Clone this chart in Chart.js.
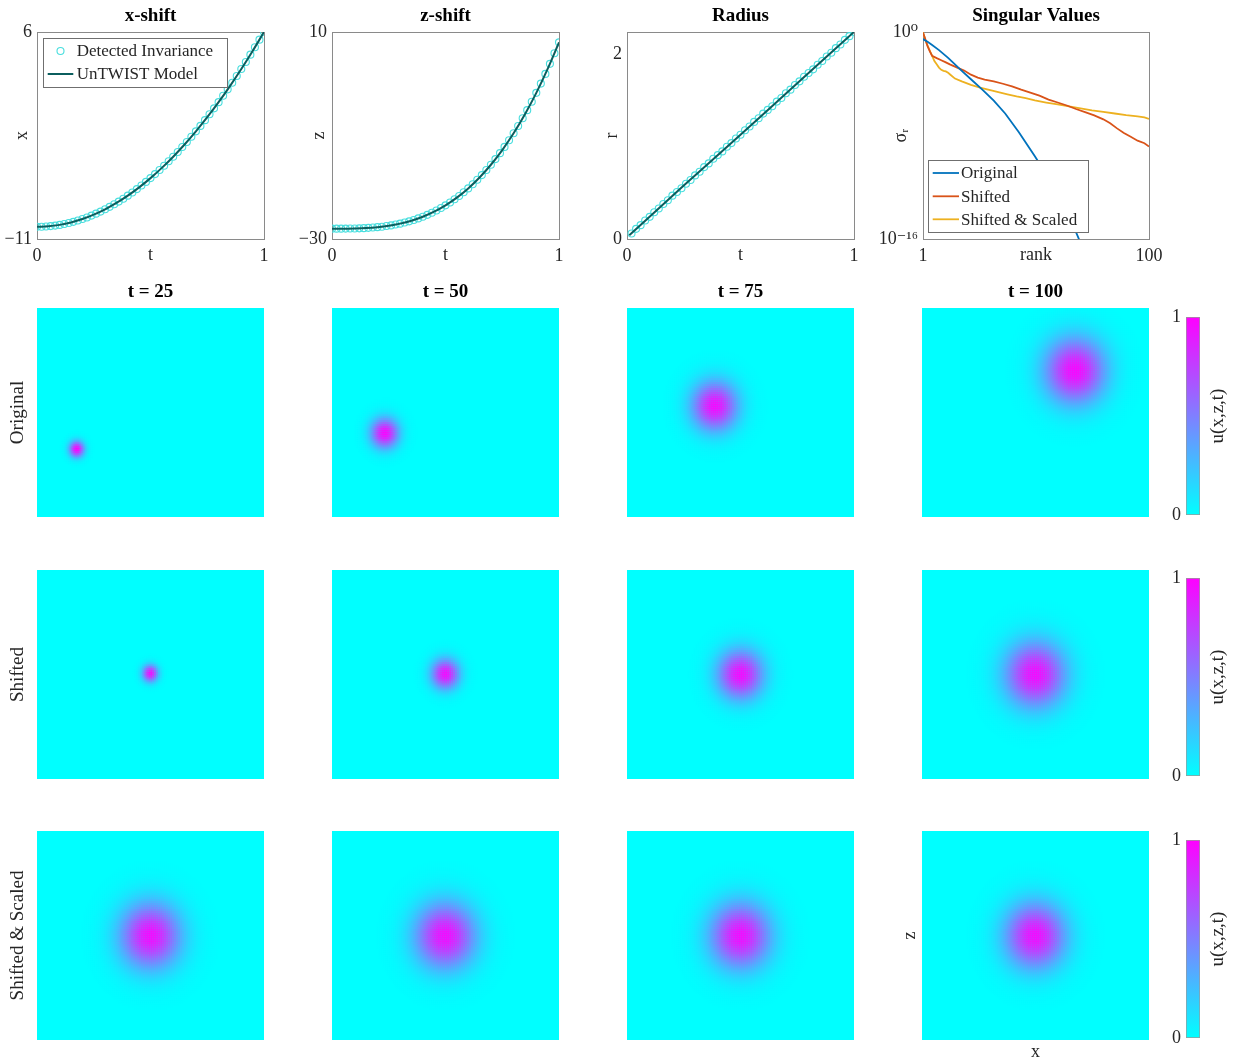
<!DOCTYPE html>
<html>
<head>
<meta charset="utf-8">
<script src="https://cdn.jsdelivr.net/npm/chart.js@4.4.0/dist/chart.umd.min.js"></script>
<style>
  html, body { margin: 0; padding: 0; background: #fff; width: 1233px; height: 1061px; overflow: hidden; }
  canvas { position: absolute; }
  .cblabel { position: absolute; font: 19px 'Liberation Serif', serif; color: #262626; white-space: nowrap;
             transform: translate(-50%, -50%) rotate(-90deg); }
</style>
</head>
<body>
<script>
// ---------- top row: detected invariances ----------
const tDet = [0,0.02,0.04,0.06,0.08,0.1,0.12,0.14,0.16,0.18,0.2,0.22,0.24,0.26,0.28,0.3,0.32,0.34,0.36,0.38,0.4,0.42,0.44,0.46,0.48,0.5,0.52,0.54,0.56,0.58,0.6,0.62,0.64,0.66,0.68,0.7,0.72,0.74,0.76,0.78,0.8,0.82,0.84,0.86,0.88,0.9,0.92,0.94,0.96,0.98,1];
const tModel = [0,0.05,0.1,0.15,0.2,0.25,0.3,0.35,0.4,0.45,0.5,0.55,0.6,0.65,0.7,0.75,0.8,0.85,0.9,0.95,1];

const xShiftDet = [-10.00,-9.99,-9.97,-9.94,-9.90,-9.84,-9.77,-9.69,-9.59,-9.48,-9.36,-9.23,-9.08,-8.92,-8.75,-8.56,-8.36,-8.15,-7.93,-7.69,-7.44,-7.18,-6.90,-6.61,-6.31,-6.00,-5.67,-5.33,-4.98,-4.62,-4.24,-3.85,-3.45,-3.03,-2.60,-2.16,-1.71,-1.24,-0.76,-0.27,0.24,0.76,1.29,1.83,2.39,2.96,3.54,4.14,4.75,5.37,6.00];
const xShiftModel = [-10.00,-9.96,-9.84,-9.64,-9.36,-9.00,-8.56,-8.04,-7.44,-6.76,-6.00,-5.16,-4.24,-3.24,-2.16,-1.00,0.24,1.56,2.96,4.44,6.00];

const zShiftDet = [-28.00,-28.00,-28.00,-27.99,-27.98,-27.96,-27.94,-27.90,-27.85,-27.79,-27.71,-27.62,-27.50,-27.37,-27.21,-27.03,-26.82,-26.59,-26.32,-26.02,-25.70,-25.33,-24.93,-24.50,-24.02,-23.50,-22.94,-22.33,-21.68,-20.98,-20.22,-19.42,-18.56,-17.65,-16.68,-15.65,-14.56,-13.41,-12.20,-10.92,-9.57,-8.15,-6.66,-5.10,-3.47,-1.76,0.03,1.90,3.85,5.88,8.00];
const zShiftModel = [-28.00,-28.00,-27.96,-27.88,-27.71,-27.44,-27.03,-26.46,-25.70,-24.72,-23.50,-22.01,-20.22,-18.11,-15.65,-12.81,-9.57,-5.89,-1.76,2.87,8.00];

const tRadDet = tDet.slice(1);
const radiusDet = [0.06,0.11,0.15,0.20,0.24,0.29,0.33,0.38,0.42,0.47,0.51,0.55,0.60,0.64,0.69,0.73,0.78,0.82,0.87,0.91,0.95,1.00,1.04,1.09,1.13,1.18,1.22,1.27,1.31,1.36,1.40,1.44,1.49,1.53,1.58,1.62,1.67,1.71,1.76,1.80,1.84,1.89,1.93,1.98,2.02,2.07,2.11,2.16,2.20,2.245];
const tRadModel = [0.01,0.25,0.5,0.75,1];
const radiusModel = [0.04,0.58,1.13,1.69,2.245];

// singular values, stored as log10(sigma_r)
const rankOrig = [1,3,5,8,12,15,18,22,27,32,37,43,50,55,60,65,70,75];
const origExp = [-0.55,-0.75,-1.0,-1.4,-2.0,-2.5,-3.0,-3.65,-4.45,-5.3,-6.3,-7.75,-9.6,-11.0,-12.4,-14.2,-16.3,-18.5];
const rankShift = [1,2,3,4,5,7,9,11,13,16,19,22,25,28,32,36,40,44,48,52,56,60,64,68,72,76,80,83,86,89,92,95,98,100];
const shiftExp = [-0.05,-0.55,-1.1,-1.5,-1.85,-2.02,-2.18,-2.35,-2.52,-2.75,-2.98,-3.3,-3.52,-3.68,-3.82,-4.0,-4.2,-4.45,-4.68,-4.92,-5.22,-5.45,-5.68,-5.95,-6.2,-6.45,-6.75,-7.05,-7.45,-7.8,-8.1,-8.4,-8.6,-8.85];
const rankScaled = [1,2,3,4,5,6,7,8,9,10,11,12,13,15,18,22,26,30,34,38,42,46,50,55,60,65,70,75,80,85,90,95,98,100];
const scaledExp = [-0.02,-0.6,-1.05,-1.45,-1.85,-2.25,-2.5,-2.75,-2.92,-3.0,-3.05,-3.15,-3.3,-3.6,-3.82,-4.08,-4.3,-4.48,-4.65,-4.82,-4.98,-5.12,-5.28,-5.45,-5.6,-5.75,-5.9,-6.05,-6.18,-6.3,-6.42,-6.52,-6.6,-6.72];

// tick labels
const tTicks = [0, 1];
const xShiftTicks = [-11, 6];
const zShiftTicks = [-30, 10];
const radiusTicks = [0, 2];
const rankTicks = [1, 100];
const sigmaTicks = [1e-16, 1];
const cbarTicks = [0, 1];

// ---------- snapshots u(x,z,t) ----------
const frameTitles = ['t = 25', 't = 50', 't = 75', 't = 100'];
const rowNames = ['Original', 'Shifted', 'Shifted & Scaled'];
const blobX = [[-6.48, -5.33, -2.25, 3.48], [0, 0, 0, 0], [0, 0, 0, 0]];
const blobZ = [[-2.97, -1.67, 0.52, 3.37], [0.1, 0.05, 0, 0], [0, 0, 0, 0]];
const blobWidth = [[0.46, 0.85, 1.4, 1.85], [0.48, 0.85, 1.4, 1.85], [1.85, 1.85, 1.85, 1.85]];

// ---------- styling ----------
const SERIF = "'Liberation Serif', 'DejaVu Serif', serif";
const GRAY = '#8a8a8a';
const CYAN = 'rgb(72,222,222)';
const TEAL = '#0b5e5e';
Chart.defaults.font.family = SERIF;
Chart.defaults.font.size = 18;
Chart.defaults.color = '#262626';

const fmt = v => String(v).replace('-', '\u2212');
const SUP = {'-': '\u207B', '0': '\u2070', '1': '\u00B9', '2': '\u00B2', '3': '\u00B3', '4': '\u2074', '5': '\u2075', '6': '\u2076', '7': '\u2077', '8': '\u2078', '9': '\u2079'};
const fmtPow = v => '10' + String(Math.round(Math.log10(v))).split('').map(ch => SUP[ch]).join('');
const cool = u => `rgb(${Math.round(255 * u)},${Math.round(255 * (1 - u))},255)`;

function canvasAt(plot, pad) {
  const cv = document.createElement('canvas');
  cv.width = plot[2] + pad[0] + pad[2];
  cv.height = plot[3] + pad[1] + pad[3];
  cv.style.left = (plot[0] - pad[0]) + 'px';
  cv.style.top = (plot[1] - pad[1]) + 'px';
  document.body.appendChild(cv);
  return cv;
}

// box lines on top and right
function frame(color) {
  const base = {display: true, grid: {display: false, drawTicks: false}, ticks: {display: false}, border: {color: color, width: 1}};
  return {
    xTop: Object.assign({position: 'top', afterFit: s => { s.height = 0; }}, base),
    yRight: Object.assign({position: 'right', afterFit: s => { s.width = 0; }}, base)
  };
}

// legend drawn inside the axes, with a frame
const boxLegend = {
  id: 'boxLegend',
  afterDatasetsDraw(chart, args, o) {
    const a = chart.chartArea, ctx = chart.ctx;
    ctx.save();
    ctx.fillStyle = '#fff';
    ctx.strokeStyle = '#6f6f6f';
    ctx.lineWidth = 1;
    ctx.fillRect(a.left + o.box[0], a.top + o.box[1], o.box[2], o.box[3]);
    ctx.strokeRect(Math.round(a.left + o.box[0]) + 0.5, Math.round(a.top + o.box[1]) + 0.5, o.box[2], o.box[3]);
    chart.data.datasets.forEach((ds, i) => {
      const y = a.top + o.rows[i];
      if (ds.showLine) {
        ctx.strokeStyle = ds.borderColor;
        ctx.lineWidth = ds.borderWidth;
        ctx.beginPath();
        ctx.moveTo(a.left + o.sample[0], y);
        ctx.lineTo(a.left + o.sample[1], y);
        ctx.stroke();
      } else {
        ctx.strokeStyle = ds.pointBorderColor;
        ctx.lineWidth = ds.pointBorderWidth;
        ctx.beginPath();
        ctx.arc(a.left + (o.sample[0] + o.sample[1]) / 2, y, ds.pointRadius, 0, Math.PI * 2);
        ctx.stroke();
      }
      ctx.fillStyle = '#262626';
      ctx.font = '17px ' + SERIF;
      ctx.textBaseline = 'middle';
      ctx.fillText(ds.label, a.left + o.textX, y + 1);
    });
    ctx.restore();
  }
};

const pts = (xs, ys) => xs.map((x, i) => ({x: x, y: ys[i]}));
const detected = (xs, ys) => ({label: 'Detected Invariance', data: pts(xs, ys), showLine: false, pointStyle: 'circle',
  pointRadius: 3.5, pointBorderWidth: 1.1, pointBorderColor: CYAN, pointBackgroundColor: 'rgba(0,0,0,0)', order: 1});
const model = (xs, ys) => ({label: 'UnTWIST Model', data: pts(xs, ys), showLine: true, borderColor: TEAL, borderWidth: 2,
  pointRadius: 0, cubicInterpolationMode: 'monotone', order: 0});

function topChart(plot, padL, spec) {
  const cv = canvasAt(plot, [padL, 32, 26, 36]);
  const ticksOf = arr => s => { s.ticks = arr.map(v => ({value: v})); };
  return new Chart(cv, {
    type: 'scatter',
    data: {datasets: spec.datasets},
    plugins: spec.legend ? [boxLegend] : [],
    options: {
      responsive: false, animation: false, events: [],
      layout: {padding: {left: 0, top: 0, right: 26, bottom: 0}},
      plugins: {
        legend: {display: false}, tooltip: {enabled: false},
        title: {display: true, text: spec.title, fullSize: false, color: '#000',
          font: {size: 19, weight: 'bold', lineHeight: 1}, padding: {top: 7, bottom: 6}},
        boxLegend: spec.legend || false
      },
      scales: Object.assign({
        x: {type: 'linear', min: spec.xRange[0], max: spec.xRange[1], afterBuildTicks: ticksOf(spec.xTicks),
          ticks: {callback: fmt, padding: 6, maxRotation: 0, autoSkip: false},
          grid: {display: false, drawTicks: false}, border: {color: GRAY},
          title: {display: true, text: spec.xTitle, font: {size: 18, lineHeight: 1}, padding: {top: 0, bottom: 10.5}},
          afterFit: s => { s.height = 36; }},
        y: {type: spec.yType || 'linear', min: spec.yRange[0], max: spec.yRange[1], afterBuildTicks: ticksOf(spec.yTicks),
          ticks: {callback: spec.yFmt || fmt, padding: 5, autoSkip: false},
          grid: {display: false, drawTicks: false}, border: {color: GRAY},
          title: {display: true, text: spec.yTitle, font: {size: 18, lineHeight: 1}, padding: {top: spec.yTitlePad, bottom: 0}},
          afterFit: s => { s.width = padL; }}
      }, frame(GRAY))
    }
  });
}

topChart([37, 32, 227, 207], 37, {
  title: 'x-shift', xTitle: 't', yTitle: 'x', yTitlePad: 13,
  xRange: [0, 1], yRange: [-11, 6], xTicks: tTicks, yTicks: xShiftTicks,
  datasets: [detected(tDet, xShiftDet), model(tModel, xShiftModel)],
  legend: {box: [6.3, 6.3, 184, 49], rows: [19, 42], sample: [10.7, 36.3], textX: 39.7}
});
topChart([332, 32, 227, 207], 37, {
  title: 'z-shift', xTitle: 't', yTitle: 'z', yTitlePad: 15,
  xRange: [0, 1], yRange: [-30, 10], xTicks: tTicks, yTicks: zShiftTicks,
  datasets: [detected(tDet, zShiftDet), model(tModel, zShiftModel)]
});
topChart([627, 32, 227, 207], 37, {
  title: 'Radius', xTitle: 't', yTitle: 'r', yTitlePad: 13.7,
  xRange: [0, 1], yRange: [0, 2.245], xTicks: tTicks, yTicks: radiusTicks,
  datasets: [detected(tRadDet, radiusDet), model(tRadModel, radiusModel)]
});
const svLine = (label, color, ranks, exps) => ({label: label, showLine: true, borderColor: color, borderWidth: 1.8,
  pointRadius: 0, tension: 0, data: ranks.map((r, i) => ({x: r, y: Math.pow(10, exps[i])}))});
topChart([923, 32, 226, 207], 50, {
  title: 'Singular Values', xTitle: 'rank', yTitle: '\u03C3\u1D63', yTitlePad: 19.7,
  xRange: [1, 100], yRange: [1e-16, 1], yType: 'logarithmic', xTicks: rankTicks, yTicks: sigmaTicks, yFmt: fmtPow,
  datasets: [
    svLine('Original', '#0072BD', rankOrig, origExp),
    svLine('Shifted', '#D95319', rankShift, shiftExp),
    svLine('Shifted & Scaled', '#EDB120', rankScaled, scaledExp)
  ],
  legend: {box: [5, 128.3, 160, 72], rows: [141, 164.3, 187.3], sample: [9.7, 36], textX: 38}
});

// ---------- heatmap grid ----------
const NX = 114, NZ = 105, X_MIN = -10, X_MAX = 10, Z_MIN = -8.5, Z_MAX = 8.5;
function blobCells(cx, cz, w) {
  const dx = (X_MAX - X_MIN) / NX, dz = (Z_MAX - Z_MIN) / NZ;
  const data = [], colors = [];
  for (let i = 0; i < NX; i++) {
    for (let j = 0; j < NZ; j++) {
      const x = X_MIN + (i + 0.5) * dx, z = Z_MIN + (j + 0.5) * dz;
      const u = Math.exp(-((x - cx) ** 2 + (z - cz) ** 2) / (2 * w * w));
      if (u > 0.004) { data.push({x: x, y: z}); colors.push(cool(u)); }
    }
  }
  return {data, colors};
}
const areaFill = {
  id: 'areaFill',
  beforeDatasetsDraw(chart) {
    const a = chart.chartArea, ctx = chart.ctx;
    ctx.save();
    ctx.fillStyle = cool(0);
    ctx.fillRect(a.left, a.top, a.width, a.height);
    ctx.restore();
  }
};

const colLeft = [37, 332, 627, 922];
const rowTop = [308, 570, 831];
for (let r = 0; r < 3; r++) {
  for (let c = 0; c < 4; c++) {
    const cv = canvasAt([colLeft[c], rowTop[r], 227, 209], [37, 30, 6, 22]);
    const cells = blobCells(blobX[r][c], blobZ[r][c], blobWidth[r][c]);
    const last = r === 2 && c === 3;
    const yTitle = c === 0 ? {display: true, text: rowNames[r], font: {size: 19, lineHeight: 1}, padding: {top: 8.5, bottom: 0}}
      : last ? {display: true, text: 'z', font: {size: 18, lineHeight: 1}, padding: {top: 16, bottom: 0}} : {display: false};
    new Chart(cv, {
      type: 'scatter',
      data: {datasets: [{data: cells.data, backgroundColor: cells.colors, pointStyle: 'rect', pointBorderWidth: 0,
        pointRadius: ctx => ctx.chart.chartArea ? ctx.chart.chartArea.width / NX * 0.82 : 1.6, clip: 0}]},
      plugins: [areaFill],
      options: {
        responsive: false, animation: false, events: [],
        layout: {padding: {left: 0, top: r === 0 ? 0 : 30, right: 6, bottom: 0}},
        plugins: {
          legend: {display: false}, tooltip: {enabled: false},
          title: {display: r === 0, text: frameTitles[c], fullSize: false, color: '#000',
            font: {size: 19, weight: 'bold', lineHeight: 1}, padding: {top: 5, bottom: 6}}
        },
        scales: {
          x: {type: 'linear', min: X_MIN, max: X_MAX, ticks: {display: false}, grid: {display: false, drawTicks: false},
            border: {display: false},
            title: last ? {display: true, text: 'x', font: {size: 18, lineHeight: 1}, padding: {top: 0, bottom: 1}} : {display: false},
            afterFit: s => { s.height = 22; }},
          y: {type: 'linear', min: Z_MIN, max: Z_MAX, ticks: {display: false}, grid: {display: false, drawTicks: false},
            border: {display: false}, title: yTitle, afterFit: s => { s.width = 37; }}
        }
      }
    });
  }
}

// ---------- colorbars ----------
const cbarTop = [317, 578, 840];
cbarTop.forEach(top => {
  const cv = canvasAt([1186, top, 14, 198], [26, 20, 4, 20]);
  new Chart(cv, {
    type: 'bar',
    data: {labels: ['u'], datasets: [{data: [1], barPercentage: 1, categoryPercentage: 1, borderWidth: 1,
      borderColor: '#9a9a9a', borderSkipped: false,
      backgroundColor: ctx => {
        const a = ctx.chart.chartArea;
        if (!a) return cool(0.5);
        const g = ctx.chart.ctx.createLinearGradient(0, a.bottom, 0, a.top);
        g.addColorStop(0, cool(0));
        g.addColorStop(1, cool(1));
        return g;
      }}]},
    options: {
      responsive: false, animation: false, events: [],
      layout: {padding: {left: 0, top: 20, right: 4, bottom: 20}},
      plugins: {legend: {display: false}, tooltip: {enabled: false}},
      scales: {
        x: {display: false},
        y: {min: 0, max: 1, afterBuildTicks: s => { s.ticks = cbarTicks.map(v => ({value: v})); },
          ticks: {padding: 5, autoSkip: false}, grid: {display: false, drawTicks: false}, border: {display: false},
          afterFit: s => { s.width = 26; }}
      }
    }
  });
  const lab = document.createElement('div');
  lab.className = 'cblabel';
  lab.textContent = 'u(x,z,t)';
  lab.style.left = '1217px';
  lab.style.top = (top + 99) + 'px';
  document.body.appendChild(lab);
});
</script>
</body>
</html>
